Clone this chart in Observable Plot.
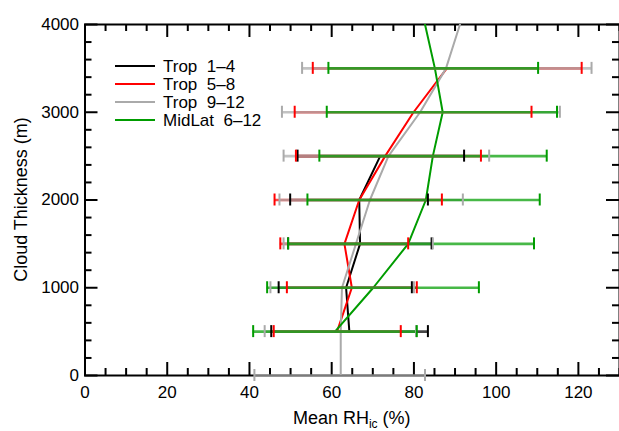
<!DOCTYPE html>
<html><head><meta charset="utf-8">
<script src="https://cdn.jsdelivr.net/npm/d3@7"></script>
<script src="https://cdn.jsdelivr.net/npm/@observablehq/plot@0.6"></script>
<style>body{margin:0;background:#fff} #chart{width:619px;height:431px}</style>
</head><body><div id="chart"></div>
<script>
// Cloud thickness levels (m)
const levels = [0, 500, 1000, 1500, 2000, 2500, 3000, 3500, 4000];

const seriesNames = ["Trop  1–4", "Trop  5–8", "Trop  9–12", "MidLat  6–12"];
const seriesColors = ["#000000", "#ff0000", "#aaaaaa", "#009c00"];

// Mean RHic (%) per level, with error bar extents (null = no value)
const trop14Mean = [null, 64.3, 63.5, 66.9, 66.7, 71.8, null, null, null];
const trop14Lo   = [null, 45.3, 47.1, 49.4, 49.9, 51.7, null, null, null];
const trop14Hi   = [null, 83.4, 79.5, 84.3, 83.4, 92.2, null, null, null];

const trop58Mean = [null, 61.3, 64.9, 63.1, 66.7, 73.0, 79.9, 88.0, null];
const trop58Lo   = [null, 45.9, 49.1, 47.5, 46.1, 51.3, 51.0, 55.4, null];
const trop58Hi   = [null, 76.8, 80.7, 78.6, 86.8, 96.3, 108.6, 120.8, null];

const trop912Mean = [62.2, 62.2, 62.5, 65.9, 69.3, 73.8, 81.5, 87.8, 91.2];
const trop912Lo   = [41.2, 43.7, 45.1, 48.3, 47.3, 48.3, 47.9, 52.8, null];
const trop912Hi   = [82.7, 80.5, 80.0, 84.6, 91.9, 98.3, 115.5, 123.2, null];

const midlatMean = [null, 60.8, 70.1, 78.6, 82.9, 84.6, 87.0, 85.1, 82.7];
const midlatLo   = [null, 40.9, 44.3, 49.4, 54.1, 57.0, 58.8, 59.2, null];
const midlatHi   = [null, 80.7, 95.8, 109.2, 110.6, 112.3, 114.8, 110.2, null];

const xTicks = [0, 20, 40, 60, 80, 100, 120];
const xMinor = d3.range(0, 131, 5).filter(v => v % 20 !== 0);
const yTicks = [0, 1000, 2000, 3000, 4000];
const yMinor = d3.range(0, 4001, 200).filter(v => v % 1000 !== 0);

const seriesData = [
  {mean: trop14Mean, lo: trop14Lo, hi: trop14Hi},
  {mean: trop58Mean, lo: trop58Lo, hi: trop58Hi},
  {mean: trop912Mean, lo: trop912Lo, hi: trop912Hi},
  {mean: midlatMean, lo: midlatLo, hi: midlatHi}
];
const rows = [];
seriesData.forEach((s, si) => levels.forEach((lv, i) => {
  if (s.mean[i] != null) rows.push({series: seriesNames[si], color: seriesColors[si], level: lv, mean: s.mean[i], lo: s.lo[i], hi: s.hi[i]});
}));
const bars = rows.filter(r => r.lo != null);

const plot = Plot.plot({
  width: 619, height: 431,
  marginLeft: 84.5, marginRight: 0, marginTop: 24, marginBottom: 56,
  style: {fontFamily: "'Liberation Sans', Arial, sans-serif", fontSize: "17px", background: "white", overflow: "visible", color: "black"},
  x: {domain: [0, 130], label: null},
  y: {domain: [0, 4000], label: null},
  color: {type: "identity"},
  marks: [
    Plot.frame({stroke: "black", strokeWidth: 2}),
    // inward ticks on all four sides
    Plot.ruleX(xTicks, {x: d => d, y1: 0, y2: 0, insetTop: -13, stroke: "black", strokeWidth: 2}),
    Plot.ruleX(xMinor, {x: d => d, y1: 0, y2: 0, insetTop: -7, stroke: "black", strokeWidth: 2}),
    Plot.ruleX(xTicks, {x: d => d, y1: 4000, y2: 4000, insetBottom: -13, stroke: "black", strokeWidth: 2}),
    Plot.ruleX(xMinor, {x: d => d, y1: 4000, y2: 4000, insetBottom: -7, stroke: "black", strokeWidth: 2}),
    Plot.ruleY(yTicks, {y: d => d, x1: 0, x2: 0, insetRight: -13, stroke: "black", strokeWidth: 2}),
    Plot.ruleY(yMinor, {y: d => d, x1: 0, x2: 0, insetRight: -7, stroke: "black", strokeWidth: 2}),
    Plot.ruleY(yTicks, {y: d => d, x1: 130, x2: 130, insetLeft: -13, stroke: "black", strokeWidth: 2}),
    Plot.ruleY(yMinor, {y: d => d, x1: 130, x2: 130, insetLeft: -7, stroke: "black", strokeWidth: 2}),
    Plot.axisX(xTicks, {anchor: "bottom", tickSize: 0, tickPadding: 10, tickFormat: d => String(d), label: null}),
    Plot.axisY(yTicks, {anchor: "left", tickSize: 0, tickPadding: 6, tickFormat: d => String(d), label: null}),
    // mean profiles
    Plot.line(rows, {x: "mean", y: "level", z: "series", stroke: "color", strokeWidth: 2, clip: true}),
    // error bars
    Plot.ruleY(bars, {y: "level", x1: "lo", x2: "hi", stroke: "color", strokeWidth: 2.6, strokeOpacity: 0.72}),
    Plot.ruleX(bars, {x: "lo", y1: "level", y2: "level", insetTop: -6, insetBottom: -6, stroke: "color", strokeWidth: 2}),
    Plot.ruleX(bars, {x: "hi", y1: "level", y2: "level", insetTop: -6, insetBottom: -6, stroke: "color", strokeWidth: 2})
  ]
});

const svg = d3.select(plot);
const xs = plot.scale("x"), ys = plot.scale("y");
const font = "'Liberation Sans', Arial, sans-serif";

// y-axis title
svg.append("text")
  .attr("transform", `translate(21,${(ys.apply(0) + ys.apply(4000)) / 2}) rotate(-90)`)
  .attr("text-anchor", "middle").attr("dominant-baseline", "central")
  .attr("font-family", font).attr("font-size", 18).attr("fill", "black")
  .text("Cloud Thickness (m)");

// x-axis title with subscript
const xt = svg.append("text")
  .attr("x", (xs.apply(0) + xs.apply(130)) / 2).attr("y", 424)
  .attr("text-anchor", "middle")
  .attr("font-family", font).attr("font-size", 18).attr("fill", "black");
xt.append("tspan").text("Mean RH");
xt.append("tspan").attr("font-size", 12).attr("dy", 4).text("ic");
xt.append("tspan").attr("dy", -4).text(" (%)");

// legend
const lg = svg.append("g").attr("transform", "translate(115,66)");
seriesNames.forEach((name, i) => {
  lg.append("line").attr("x1", 0).attr("x2", 40).attr("y1", i * 18).attr("y2", i * 18)
    .attr("stroke", seriesColors[i]).attr("stroke-width", 2);
  lg.append("text").attr("x", 48).attr("y", i * 18).attr("dy", "0.35em")
    .attr("text-anchor", "start")
    .attr("font-family", font).attr("font-size", 17).attr("fill", "black")
    .style("white-space", "pre").text(name);
});

document.getElementById("chart").appendChild(plot);
</script>
</body></html>
